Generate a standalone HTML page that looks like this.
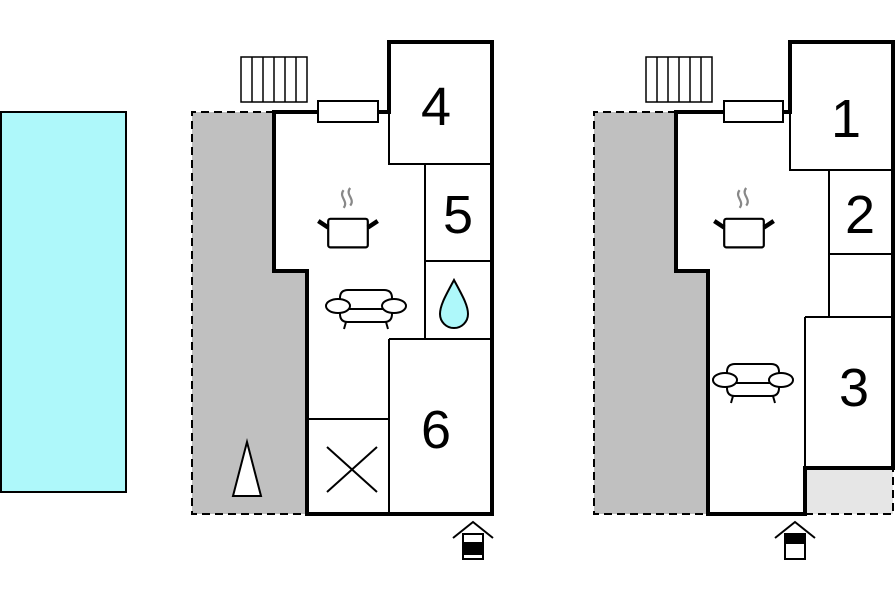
<!DOCTYPE html><html><head><style>body{margin:0;background:#fff}svg{display:block}text{font-family:"Liberation Sans",sans-serif;font-size:54px;text-anchor:middle}</style></head><body>
<svg width="896" height="597" viewBox="0 0 896 597">
<rect x="1" y="112" width="125" height="380" fill="#aef8fa" stroke="#000" stroke-width="2"/>
<!-- left plan -->
<path d="M192,112H274V271H307V514H192Z" fill="#c0c0c0"/>
<path d="M274,112H192V514H307" fill="none" stroke="#000" stroke-width="2" stroke-dasharray="8,5"/>
<g fill="none" stroke="#000" stroke-width="2">
<path d="M389,112V164H492M425,164V339M425,261H492M389,339H492M389,339V514M307,419H389M327,447L377,492M377,447L327,492"/>
</g>
<path d="M274,112H389V42H492V514H307V271H274Z" fill="none" stroke="#000" stroke-width="4"/>
<rect x="318" y="101" width="60" height="21" fill="#fff" stroke="#000" stroke-width="2"/>
<g fill="#fff" stroke="#000" stroke-width="1.5"><rect x="241" y="57" width="66" height="45"/><path d="M252,57V102M263,57V102M274,57V102M285,57V102M296,57V102"/></g>
<text x="436" y="125">4</text><text x="458" y="233">5</text><text x="436" y="448">6</text>
<path d="M454,280C446,295 440,305 440,314A14,14 0 0 0 468,314C468,305 462,295 454,280Z" fill="#aef8fa" stroke="#000" stroke-width="2"/>
<path d="M247,442L233,496H261Z" fill="#fff" stroke="#000" stroke-width="2"/>
<!-- right plan -->
<path d="M594,112H676V271H708V514H594Z" fill="#c0c0c0"/>
<path d="M676,112H594V514H708" fill="none" stroke="#000" stroke-width="2" stroke-dasharray="8,5"/>
<rect x="805" y="468" width="88" height="46" fill="#e6e6e6"/>
<path d="M805,514H893V468" fill="none" stroke="#000" stroke-width="2" stroke-dasharray="8,5"/>
<g fill="none" stroke="#000" stroke-width="2"><path d="M790,112V170H893M829,170V317M829,254H893M805,317H893M805,317V468"/></g>
<path d="M676,112H790V42H893V468H805V514H708V271H676Z" fill="none" stroke="#000" stroke-width="4"/>
<rect x="724" y="101" width="59" height="21" fill="#fff" stroke="#000" stroke-width="2"/>
<g fill="#fff" stroke="#000" stroke-width="1.5"><rect x="646" y="57" width="66" height="45"/><path d="M657,57V102M668,57V102M679,57V102M690,57V102M701,57V102"/></g>
<text x="846" y="137">1</text><text x="860" y="233">2</text><text x="854" y="406">3</text>
<!-- icons -->
<defs>
<g id="pot" fill="none" stroke="#000"><path d="M-4,-38c-5,6 5,10 0,16M2,-40c-5,6 5,10 0,16" stroke="#888" stroke-width="2"/><rect x="-18" y="-12" width="36" height="26" rx="2" fill="#fff" stroke-width="2"/><path d="M-18,-4L-27,-10M18,-4L27,-10" stroke-width="4"/></g>
<g id="sofa" fill="#fff" stroke="#000" stroke-width="2"><path d="M-26,8V-8Q-26,-16 -18,-16H18Q26,-16 26,-8V8Q26,16 18,16H-18Q-26,16 -26,8Z"/><path d="M-26,3H26"/><ellipse cx="-28" cy="0" rx="12" ry="7"/><ellipse cx="28" cy="0" rx="12" ry="7"/><path d="M-20,16L-22,23M20,16L22,23"/></g>
<g id="house"><path d="M-20,12L0,-4L20,12" fill="none" stroke="#000" stroke-width="2"/><rect x="-10" y="8" width="20" height="25" fill="#fff" stroke="#000" stroke-width="2"/></g>
</defs>
<use href="#pot" transform="translate(348,232) scale(1.1)"/><use href="#pot" transform="translate(744,232) scale(1.1)"/>
<use href="#sofa" x="366" y="306"/><use href="#sofa" x="753" y="380"/>
<use href="#house" x="473" y="526"/><rect x="463" y="542" width="20" height="13"/>
<use href="#house" x="795" y="526"/><rect x="785" y="534" width="20" height="10"/>
</svg></body></html>
